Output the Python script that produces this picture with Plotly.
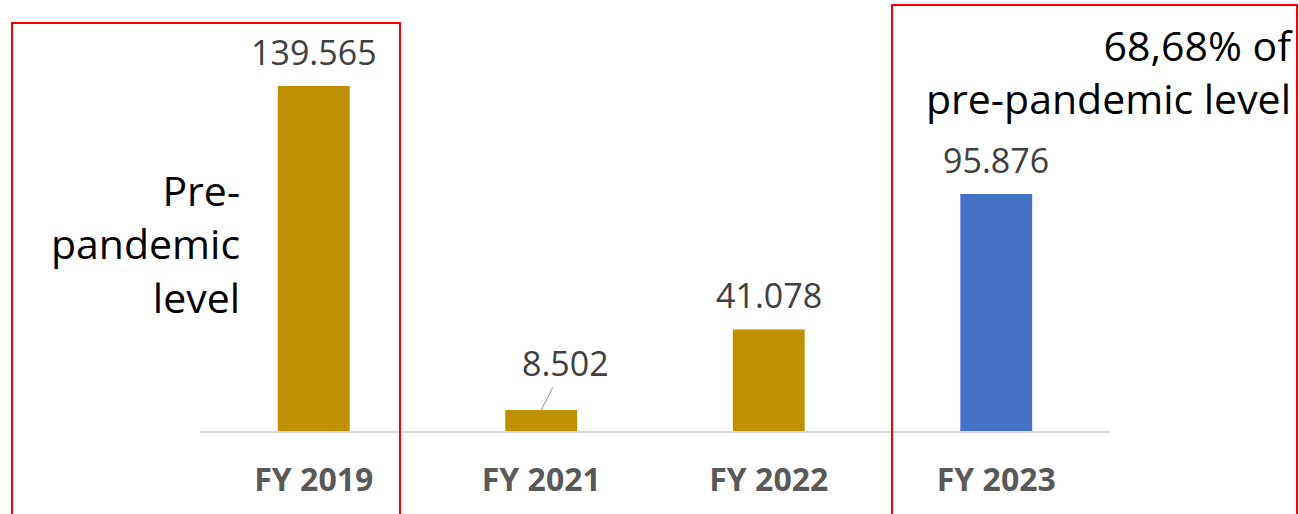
import plotly.graph_objects as go

categories = ["FY 2019", "FY 2021", "FY 2022", "FY 2023"]
values = [139.565, 8.502, 41.078, 95.876]
value_labels = ["139.565", "8.502", "41.078", "95.876"]
bar_colors = ["#BF9000", "#BF9000", "#BF9000", "#4472C4"]

FONT = "Open Sans"
L, R, T, B = 200, 189, 20, 83
W, H = 1299, 514
pw, ph = W - L - R, H - T - B

def px_x(p):
    return (p - L) / pw

def px_y(p):
    return (H - B - p) / ph

fig = go.Figure()
fig.add_trace(go.Bar(
    x=categories, y=values, marker=dict(color=bar_colors, line=dict(width=0)),
    width=0.316, hoverinfo="skip", showlegend=False,
))

annotations = []
for c, v, t in zip(categories, values, value_labels):
    if c == "FY 2021":
        annotations.append(dict(
            x=c, y=v, xref="x", yref="y", text=t, showarrow=True,
            ax=24, ay=-47, arrowhead=0, arrowwidth=1.2, arrowcolor="#A6A6A6",
            font=dict(family=FONT, size=34, color="#404040"),
        ))
    else:
        annotations.append(dict(
            x=c, y=v, xref="x", yref="y", text=t, showarrow=False,
            yanchor="bottom", yshift=9,
            font=dict(family=FONT, size=34, color="#404040"),
        ))

annotations.append(dict(
    x=px_x(242), y=px_y(243), xref="paper", yref="paper",
    text="Pre-<br>pandemic<br>level", showarrow=False,
    xanchor="right", yanchor="middle", align="right",
    font=dict(family=FONT, size=41, color="#000000"),
))
annotations.append(dict(
    x=px_x(1295), y=px_y(72), xref="paper", yref="paper",
    text="68,68% of<br>pre-pandemic level", showarrow=False,
    xanchor="right", yanchor="middle", align="right",
    font=dict(family=FONT, size=41, color="#000000"),
))

shapes = [
    dict(type="rect", xref="paper", yref="paper",
         x0=px_x(12), x1=px_x(400), y0=px_y(530), y1=px_y(23),
         line=dict(color="#FF0000", width=2), fillcolor="rgba(0,0,0,0)", layer="above"),
    dict(type="rect", xref="paper", yref="paper",
         x0=px_x(892), x1=px_x(1297), y0=px_y(530), y1=px_y(5),
         line=dict(color="#FF0000", width=2), fillcolor="rgba(0,0,0,0)", layer="above"),
]

fig.update_layout(
    width=W, height=H,
    margin=dict(l=L, r=R, t=T, b=B, pad=0),
    paper_bgcolor="white", plot_bgcolor="white",
    annotations=annotations, shapes=shapes,
    xaxis=dict(
        range=[-0.5, 3.5], showline=True, linecolor="#D9D9D9", linewidth=2,
        showgrid=False, ticks="", zeroline=False,
        tickfont=dict(family=FONT, size=32, color="#595959", weight="bold"),
        ticklabelstandoff=20,
    ),
    yaxis=dict(range=[0, ph / (345 / 139.565)], visible=False, showgrid=False, zeroline=False),
    bargap=0.5,
)

fig.write_html("out.html")
